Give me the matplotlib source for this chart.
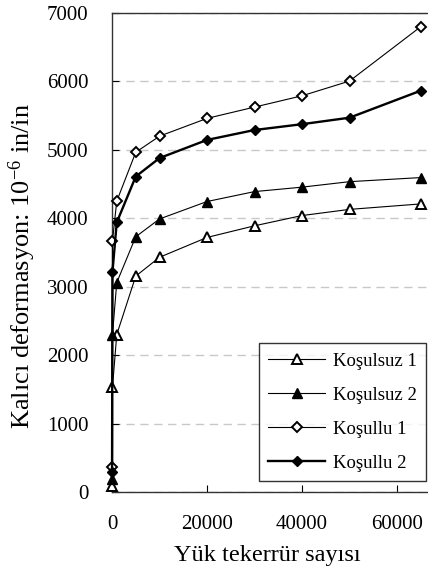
import matplotlib
matplotlib.use('Agg')
import matplotlib.pyplot as plt

plt.rcParams['font.family'] = ['Liberation Serif', 'DejaVu Serif']
plt.rcParams['mathtext.fontset'] = 'custom'
plt.rcParams['mathtext.rm'] = 'Liberation Serif'
plt.rcParams['mathtext.default'] = 'rm'

# load repetitions
cycles = [10, 100, 1000, 5000, 10000, 20000, 30000, 40000, 50000, 65000]

kosulsuz1 = [90, 1530, 2300, 3155, 3430, 3720, 3890, 4040, 4130, 4210]
kosulsuz2 = [190, 2300, 3060, 3730, 3990, 4245, 4390, 4455, 4535, 4595]
kosullu1 = [370, 3670, 4250, 4965, 5200, 5460, 5625, 5790, 6005, 6800]
kosullu2 = [290, 3220, 3940, 4610, 4880, 5145, 5290, 5375, 5470, 5865]

xticks = [0, 20000, 40000, 60000]
yticks = [0, 1000, 2000, 3000, 4000, 5000, 6000, 7000]

fig = plt.figure(figsize=(4.28, 5.77), dpi=100)
# axes runs past the right edge of the picture (cropped like the source)
ax = fig.add_axes([112/428, 85/577, 332.5/428, 479/577])

ax.plot(cycles, kosulsuz1, color='black', lw=0.8, marker='^', ms=7,
        mfc='white', mec='black', mew=1.4, label='Koşulsuz 1', clip_on=False, zorder=3)
ax.plot(cycles, kosulsuz2, color='black', lw=0.8, marker='^', ms=7,
        mfc='black', mec='black', mew=1.0, label='Koşulsuz 2', clip_on=False, zorder=3)
ax.plot(cycles, kosullu1, color='black', lw=0.8, marker='D', ms=5.5,
        mfc='white', mec='black', mew=1.4, label='Koşullu 1', clip_on=False, zorder=3)
ax.plot(cycles, kosullu2, color='black', lw=1.7, marker='D', ms=5.5,
        mfc='black', mec='black', mew=1.0, label='Koşullu 2', clip_on=False, zorder=3)

ax.set_xlim(0, 70000)
ax.set_ylim(0, 7000)
ax.set_xticks(xticks)
ax.set_yticks(yticks)
ax.set_xticklabels([str(t) for t in xticks])
ax.set_yticklabels([str(t) for t in yticks])
ax.tick_params(direction='in', length=5, width=0.8, labelsize=15, colors='black')
ax.tick_params(axis='y', pad=17)
ax.tick_params(axis='x', pad=16.5)

ax.yaxis.grid(True, color='#c8c8c8', linestyle=(0, (6, 4)), lw=1.0)
ax.set_axisbelow(True)
for s in ax.spines.values():
    s.set_color('#333333')
    s.set_linewidth(1.0)

ax.set_ylabel('Kalıcı deformasyon: 10$^{-6}$ in/in', fontsize=19, va='center')
ax.yaxis.set_label_coords((22 - 112) / 332.5, (492 - 266) / 479)
ax.set_xlabel('Yük tekerrür sayısı', fontsize=17.5, va='center')
ax.xaxis.set_label_coords((267 - 112) / 332.5, (492 - 555) / 479)

leg = ax.legend(loc='upper left', bbox_to_anchor=(259/428, 1 - 343/577), bbox_transform=fig.transFigure,
                fontsize=13.5, frameon=True, fancybox=False, edgecolor='black',
                handlelength=3.0, handletextpad=0.45, labelspacing=0.9, borderpad=0.5,
                borderaxespad=0)
leg.get_frame().set_linewidth(1.0)

fig.savefig('out.png', dpi=100)
